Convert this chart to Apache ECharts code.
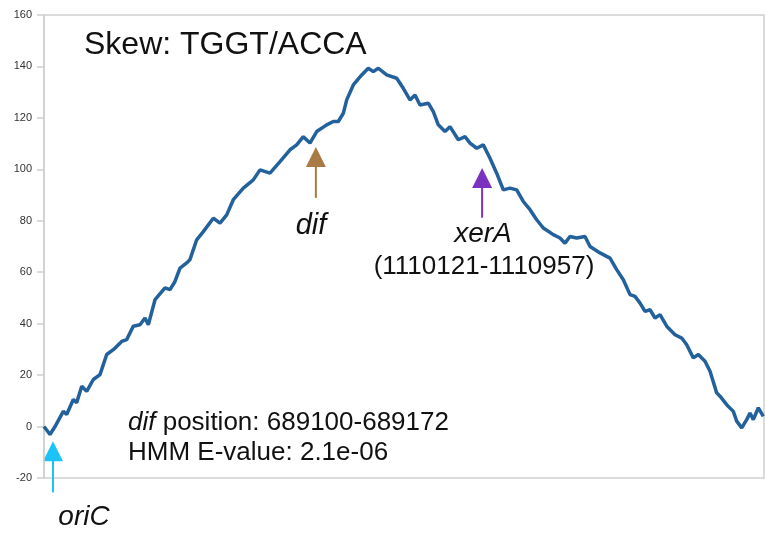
<!DOCTYPE html>
<html>
<head>
<meta charset="utf-8">
<script src="https://cdn.jsdelivr.net/npm/echarts@6/dist/echarts.min.js"></script>
<style>
html,body{margin:0;padding:0;background:#fff;}
#chart{width:765px;height:534px;}
</style>
</head>
<body>
<div id="chart"></div>
<script>
// Genome position (kb) and cumulative TGGT/ACCA skew
var positionsKb = [0,15.2,27.9,48.9,57.5,74.3,82.9,95.6,108.2,125,141.9,158.9,175.7,197,209.6,226.3,243.3,256,264.4,281.4,306.7,319.4,332,344.7,361.7,370,387,403.8,429.1,446.1,463.1,479.8,505.2,530.5,547.5,572.8,598.2,623.5,640.5,657.2,674.2,691.2,716.6,733.3,746,758.7,767.3,784,805.3,822,834.7,847.4,868.6,894,910.7,927.7,940.4,953,974.1,986.8,999.4,1016.4,1029.1,1050.1,1067.1,1079.8,1096.8,1113.5,1130.5,1147.4,1164.2,1181.1,1198.1,1214.8,1231.9,1248.8,1265.6,1290.9,1307.9,1320.6,1333.2,1350.2,1371.3,1384,1409.3,1434.7,1451.6,1468.4,1485.4,1498.1,1510.8,1523.4,1536.1,1548.8,1561.4,1578.4,1599.4,1616.4,1629.1,1645.8,1658.5,1675.5,1688.2,1705.1,1713.5,1730.4,1747.2,1755.8,1768.5,1781.1,1789.5,1797.9,1810.6,1823.3];
var skewValues = [0,-3.1,0,5.9,4.7,10.5,9.3,15.7,13.7,18.3,20.2,28,29.9,33.1,33.8,39,39.6,42.2,39.6,49.3,53.9,53.2,56.4,61.6,63.6,64.9,72.6,75.8,81,79.1,82.3,88.2,92.7,95.9,99.8,98.5,103,107.6,109.5,112.7,110.2,114.7,117.3,118.6,118.6,121.8,127,132.8,136.7,139.3,138,139.3,136.7,135.4,131.5,127,128.9,125,125.7,122.4,117.3,114.7,116.6,111.5,112.7,110.2,108.2,109.5,104.3,98.5,92,92.7,92,87.5,84.3,80.4,77.2,74.6,73.3,71.3,73.9,73.3,73.9,70,67.5,65.5,61,57.1,51.3,50.6,48,44.8,45.4,42.2,43.5,39,35.7,34.4,31.8,26.7,28,25.4,21.5,13.1,11.8,8.5,5.9,2.1,-0.5,2.7,5.3,2.7,7.3,4];
var yTicks = [-20,0,20,40,60,80,100,120,140,160];
var genomeLengthKb = 1825;

// Arrow annotations: position kb, shaft bottom value, arrow tip value
var arrowNames = ['dif','xerA','oriC'];
var arrowPos = [689.1, 1110.5, 22.8];
var arrowFrom = [88.9, 81.2, -25.6];
var arrowTip = [108.7, 100.5, -5.7];
var arrowColors = ['#a87a45','#7b32c0','#1cc3f6'];

var lineData = positionsKb.map(function(p,i){return [p, skewValues[i]];});

var chart = echarts.init(document.getElementById('chart'), null, {renderer:'canvas'});
var F = '"Liberation Sans", Arial, Helvetica, sans-serif';
var textGraphics = [
  {type:'text', left:84, top:29, style:{text:'Skew: TGGT/ACCA', font:'32px '+F, fill:'#111'}},
  {type:'text', style:{x:311, y:226, text:'dif', font:'italic 29px '+F, fill:'#111', align:'center', verticalAlign:'middle'}},
  {type:'text', style:{x:483, y:234, text:'xerA', font:'italic 28px '+F, fill:'#111', align:'center', verticalAlign:'middle'}},
  {type:'text', style:{x:484, y:267, text:'(1110121-1110957)', font:'26px '+F, fill:'#111', align:'center', verticalAlign:'middle'}},
  {type:'text', style:{x:128, y:423, text:'{i|dif} position: 689100-689172', font:'26px '+F, fill:'#111', verticalAlign:'middle',
    rich:{i:{fontStyle:'italic', fontSize:26, fontFamily:F, fill:'#111'}}}},
  {type:'text', style:{x:128, y:453, text:'HMM E-value: 2.1e-06', font:'26px '+F, fill:'#111', verticalAlign:'middle'}},
  {type:'text', style:{x:84, y:517, text:'oriC', font:'italic 28px '+F, fill:'#111', align:'center', verticalAlign:'middle'}}
];
chart.setOption({
  animation:false,
  backgroundColor:'#fff',
  grid:{left:44, right:1, top:15, bottom:56, show:true, borderColor:'#cfcfcf', borderWidth:1.5},
  xAxis:{type:'value', min:0, max:genomeLengthKb, show:true,
    axisLine:{show:false}, axisTick:{show:false}, axisLabel:{show:false}, splitLine:{show:false}},
  yAxis:{type:'value', min:yTicks[0], max:yTicks[yTicks.length-1], interval:20,
    axisLine:{show:true, lineStyle:{color:'#cfcfcf', width:1.5}},
    axisTick:{show:true, length:7, lineStyle:{color:'#cfcfcf', width:1.5}},
    axisLabel:{color:'#333', fontSize:11, fontFamily:F, margin:12},
    splitLine:{show:false}},
  series:[{
    type:'line', data:lineData, showSymbol:false, clip:false,
    lineStyle:{color:'#165896', width:3.5, opacity:0.95}
  }],
  graphic:textGraphics
});

// arrows placed through the chart's own scales
var arrowGraphics = arrowNames.map(function(n,i){
  var tip = chart.convertToPixel({gridIndex:0}, [arrowPos[i], arrowTip[i]]);
  var bot = chart.convertToPixel({gridIndex:0}, [arrowPos[i], arrowFrom[i]]);
  var h = 20, w = 20;
  return {type:'group', children:[
    {type:'line', shape:{x1:tip[0], y1:tip[1]+h-1, x2:bot[0], y2:bot[1]}, style:{stroke:arrowColors[i], lineWidth:2}},
    {type:'polygon', shape:{points:[[tip[0], tip[1]], [tip[0]-w/2, tip[1]+h], [tip[0]+w/2, tip[1]+h]]}, style:{fill:arrowColors[i]}}
  ]};
});
chart.setOption({graphic: textGraphics.concat(arrowGraphics)});
</script>
</body>
</html>
